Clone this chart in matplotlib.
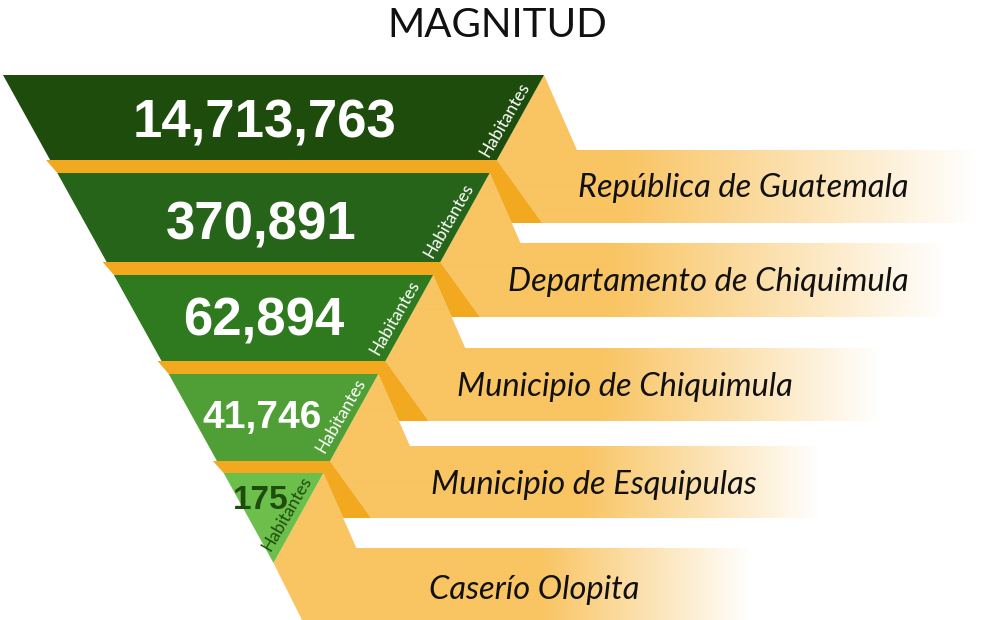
import numpy as np
import matplotlib.pyplot as plt
from matplotlib.patches import Polygon
from matplotlib.colors import to_rgb

titulo = 'MAGNITUD'
lugares = ['República de Guatemala', 'Departamento de Chiquimula',
           'Municipio de Chiquimula', 'Municipio de Esquipulas', 'Caserío Olopita']
habitantes = [14713763, 370891, 62894, 41746, 175]
unidad = 'Habitantes'

verdes = ['#1d4c0c', '#26641a', '#2f7a1f', '#4f9f36', '#6dbf4c']
color_txt = ['white', 'white', 'white', 'white', '#1d4c0c']
naranja = '#f9c462'
naranja_osc = '#f2a81f'

# layout in pixels (y grows downward)
W, H = 983, 620
cx, y0, apex, half_top = 273.5, 75, 563, 270.5
bandas = [(75, 160), (173, 262), (275, 361), (374, 461), (473, 563)]
banners = [(150, 223), (243, 317), (348, 421), (446, 518), (548, 650)]
fades = [(620, 975), (610, 945), (600, 880), (580, 820), (540, 750)]
s_up = 0.44
s_low = [0.72, 0.72, 0.72, 0.72, 0.5]
num_pos = [(265, 138), (261, 240), (264, 335), (262, 428), (261, 509)]
num_size = [38, 38, 38, 28, 24]
hab_y = [120, 221, 318, 416, 514]
lab_pos = [(578, 197), (508, 291), (457, 396), (431, 494), (429, 599)]


def xl(y):
    return cx - half_top * (apex - y) / (apex - y0)


def xr(y):
    return cx + half_top * (apex - y) / (apex - y0)


fig = plt.figure(figsize=(9.83, 6.2), dpi=100)
ax = fig.add_axes([0, 0, 1, 1])
ax.set_xlim(0, W)
ax.set_ylim(H, 0)
ax.axis('off')

# ribbons with fading banner
c0 = np.array(to_rgb(naranja))
xs = np.arange(W)
for i, ((top, bot), (bt, bb), (f0, f1)) in enumerate(zip(bandas, banners, fades)):
    pts = [(xr(top), top), (xr(top) + s_up * (bt - top), bt), (W, bt), (W, bb),
           (xr(bot) + s_low[i] * (bb - bot), bb), (xr(bot), bot)]
    poly = Polygon(pts, closed=True, facecolor='none', edgecolor='none')
    ax.add_patch(poly)
    t = np.clip((xs - f0) / (f1 - f0), 0, 1)[:, None]
    row = c0 * (1 - t) + np.ones(3) * t
    img = np.repeat(row[None, :, :], 2, axis=0)
    im = ax.imshow(img, extent=[0, W, bb, top], aspect='auto', zorder=1,
                   interpolation='bilinear')
    im.set_clip_path(poly)

# dark orange gaps and folds
for i in range(len(bandas) - 1):
    bot = bandas[i][1]
    top2 = bandas[i + 1][0]
    bb = banners[i][1]
    pts = [(xl(bot) - 4, bot), (xr(bot), bot), (xr(bot) + s_low[i] * (bb - bot), bb),
           (xr(top2) + s_up * (bb - top2), bb), (xr(top2), top2), (xl(top2), top2)]
    ax.add_patch(Polygon(pts, closed=True, facecolor=naranja_osc, edgecolor='none', zorder=2))

# green bands
for i, (top, bot) in enumerate(bandas):
    pts = [(xl(top), top), (xr(top), top), (xr(bot), bot), (xl(bot), bot)]
    ax.add_patch(Polygon(pts, closed=True, facecolor=verdes[i], edgecolor='none', zorder=3))

for i in range(len(habitantes)):
    x, y = num_pos[i]
    ax.text(x, y, f'{habitantes[i]:,}', ha='center', va='baseline', fontsize=num_size[i],
            fontweight='bold', color=color_txt[i], family=['Liberation Sans', 'DejaVu Sans'],
            zorder=4)
    yh = hab_y[i]
    ax.text(xr(yh) - 14, yh, unidad, ha='center', va='center', rotation=60, fontsize=12.5,
            color=color_txt[i], family=['Lato', 'DejaVu Sans'], zorder=4)
    lx, ly = lab_pos[i]
    ax.text(lx, ly, lugares[i], ha='left', va='baseline', fontsize=23.5, style='italic',
            color='#111111', family=['Lato', 'DejaVu Sans'], zorder=4)

ax.text(497, 37, titulo, ha='center', va='baseline', fontsize=29, color='#111111',
        family=['Lato', 'DejaVu Sans'])

fig.savefig('out.png', dpi=100)
